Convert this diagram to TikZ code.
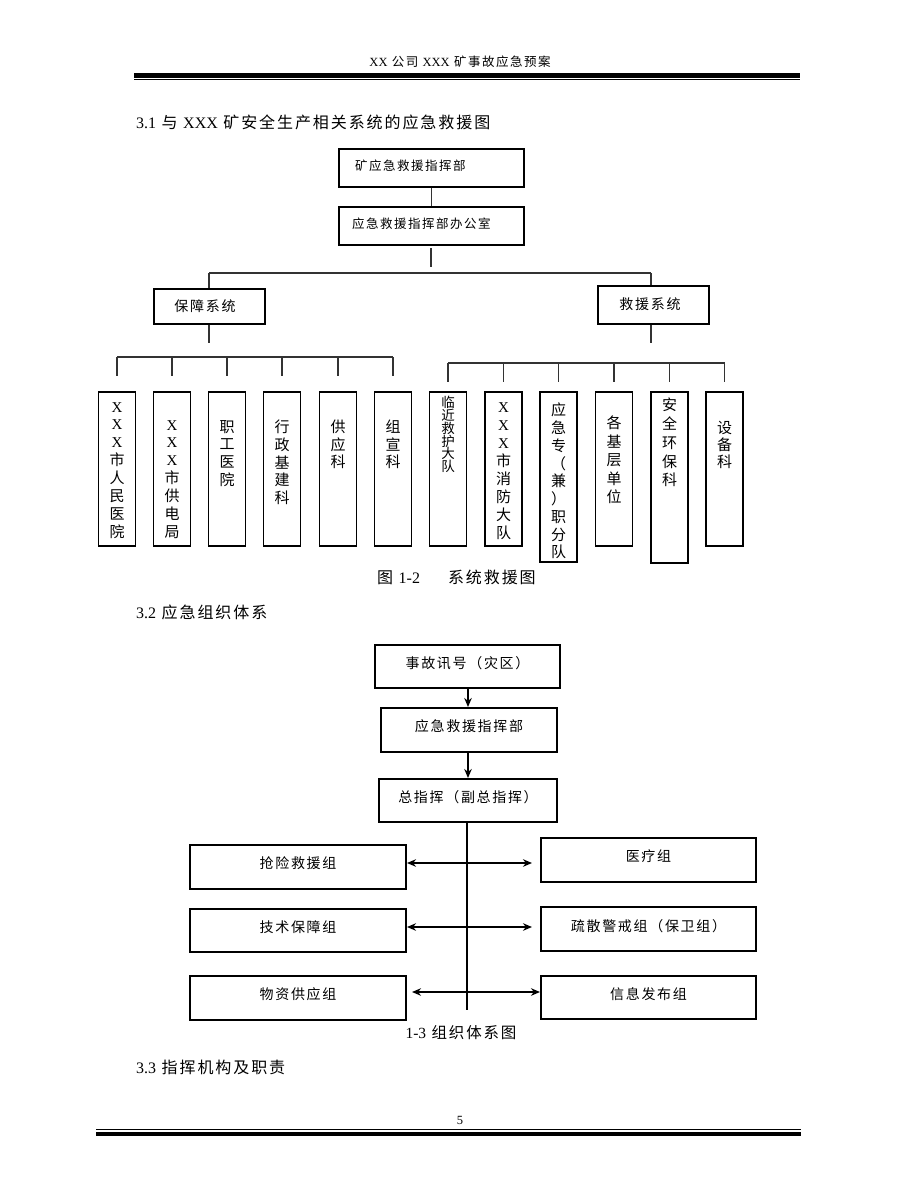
\documentclass[tikz,border=0pt]{standalone}
\usepackage{fontspec}
\setmainfont{Liberation Serif}
\newfontfamily\cjk[LetterSpace=12]{Noto Sans CJK SC}
\newfontfamily\lat{Liberation Serif}
\newcommand\myfs[2]{\fontsize{#1}{#2}\selectfont}
\usetikzlibrary{arrows.meta}
\begin{document}
\begin{tikzpicture}[x=1pt,y=-1pt,
  bx/.style={draw,line width=1.1pt,inner sep=0pt},
  vbx/.style={draw,line width=1.1pt,inner sep=0pt,minimum width=37pt},
  bxb/.style={draw,line width=2pt,inner sep=0pt,text depth=8pt,font={\myfs{14}{16}\cjk}},
  ln/.style={draw=black!80,line width=1.3pt},
  lnb/.style={line width=1.8pt},
  tx/.style={inner sep=0pt,font={\myfs{12.5}{15}\cjk}},
  vt/.style={inner sep=0pt,anchor=north,align=center},
  hd/.style={inner sep=0pt,anchor=west,font={\myfs{16}{18}\cjk}},
  arr/.style={-{Stealth[length=9pt,width=7.5pt]}},
  darr/.style={{Stealth[length=9pt,width=7.5pt]}-{Stealth[length=9pt,width=7.5pt]}}
]
\useasboundingbox (0,0) rectangle (920,1191);
\fill[white] (0,0) rectangle (920,1191);

% header and footer
\node[inner sep=0pt,font={\myfs{12.5}{15}\cjk}] (hdr) at (460,62) {{\lat XX} 公司 {\lat XXX} 矿事故应急预案};
\fill (134,73) rectangle (800,77.5);
\draw[line width=0.8pt] (134,79.6) -- (800,79.6);
\node[inner sep=0pt,font={\myfs{12.5}{15}\lat}] (pg) at (460,1120) {5};
\draw[line width=0.8pt] (96,1129) -- (801,1129);
\fill (96,1131.5) rectangle (801,1136);

% headings
\node[hd] (h1) at (136,122) {{\lat 3.1} 与 {\lat XXX} 矿安全生产相关系统的应急救援图};
\node[hd] (h2) at (136,612) {{\lat 3.2} 应急组织体系};
\node[hd] (h3) at (136,1067) {{\lat 3.3} 指挥机构及职责};

% ---------- diagram 1 ----------
\node[bx,minimum width=185pt,minimum height=38pt] (c1) at (431.5,168) {};
\node[tx,anchor=west] (c1t) at (355,166) {矿应急救援指挥部};
\node[bx,minimum width=185pt,minimum height=38pt] (c2) at (431.5,226) {};
\node[tx,anchor=west] (c2t) at (352,224) {应急救援指挥部办公室};
\draw[ln] (c1) -- (c2);
\coordinate (k1) at (431,248);
\coordinate (k2) at (431,267);
\draw[ln] (k1) -- (k2);
\coordinate (hl) at (209,273);
\coordinate (hr) at (651,273);
\draw[ln] (hl) -- (hr);
\node[bx,minimum width=111pt,minimum height=35pt] (bz) at (209.5,306.5) {};
\node[tx,font={\myfs{14}{16}\cjk}] (bzt) at (205,306) {保障系统};
\node[bx,minimum width=111pt,minimum height=38pt] (jy) at (653.5,305) {};
\node[tx,font={\myfs{14}{16}\cjk}] (jyt) at (650,304) {救援系统};
\draw[ln] (hl) -- (hl |- bz.north);
\draw[ln] (hr) -- (hr |- jy.north);
\coordinate (bl) at (209,343);
\coordinate (br) at (651,343);
\draw[ln] (bz.south -| bl) -- (bl);
\draw[ln] (jy.south -| br) -- (br);

% left group
\node[vbx,minimum height=154pt] (p1) at (117,469) {};
\node[vbx,minimum height=154pt] (p2) at (172,469) {};
\node[vbx,minimum height=154pt] (p3) at (227,469) {};
\node[vbx,minimum height=154pt] (p4) at (282,469) {};
\node[vbx,minimum height=154pt] (p5) at (338,469) {};
\node[vbx,minimum height=154pt] (p6) at (393,469) {};
\draw[ln] (p1.north |- 0,357) -- (p6.north |- 0,357);
\foreach \n in {p1,p2,p3,p4,p5,p6}
  \draw[ln] (\n.north |- 0,357) -- (\n.north |- 0,376);

% right group
\node[vbx,minimum height=154pt] (q1) at (448,469) {};
\node[vbx,minimum height=154pt] (q2) at (503.5,469) {};
\node[vbx,minimum height=170pt] (q3) at (558.5,477) {};
\node[vbx,minimum height=154pt] (q4) at (614,469) {};
\node[vbx,minimum height=171pt] (q5) at (669.5,477.5) {};
\node[vbx,minimum height=154pt] (q6) at (724.5,469) {};
\draw[ln] (q1.north |- 0,363) -- (q6.north |- 0,363);
\foreach \n in {q1,q2,q3,q4,q5,q6}
  \draw[ln] (\n.north |- 0,363) -- (\n.north |- 0,382);

% vertical texts
\node[vt,font={\myfs{15}{17.9}\cjk}] (p1t) at (117,402) {{\lat X}\\{\lat X}\\{\lat X}\\市\\人\\民\\医\\院};
\node[vt,font={\myfs{15}{17.9}\cjk}] (p2t) at (172,420) {{\lat X}\\{\lat X}\\{\lat X}\\市\\供\\电\\局};
\node[vt,font={\myfs{15}{17.7}\cjk}] (p3t) at (227,420) {职\\工\\医\\院};
\node[vt,font={\myfs{15}{17.7}\cjk}] (p4t) at (282,420) {行\\政\\基\\建\\科};
\node[vt,font={\myfs{15}{17.5}\cjk}] (p5t) at (338,420) {供\\应\\科};
\node[vt,font={\myfs{15}{17.5}\cjk}] (p6t) at (393,420) {组\\宣\\科};
\node[vt,font={\myfs{13.5}{12.8}\cjk}] (q1t) at (448,396) {临\\近\\救\\护\\大\\队};
\node[vt,font={\myfs{15}{18}\cjk}] (q2t) at (503.5,402) {{\lat X}\\{\lat X}\\{\lat X}\\市\\消\\防\\大\\队};
\node[vt,font={\myfs{15}{17.75}\cjk}] (q3t) at (558.5,403) {应\\急\\专\\（\\兼\\）\\职\\分\\队};
\node[vt,font={\myfs{15}{18.5}\cjk}] (q4t) at (614,416) {各\\基\\层\\单\\位};
\node[vt,font={\myfs{15}{18.75}\cjk}] (q5t) at (669.5,398) {安\\全\\环\\保\\科};
\node[vt,font={\myfs{15}{17}\cjk}] (q6t) at (724.5,421) {设\\备\\科};

\node[hd] (cap1) at (377,577) {图 {\lat 1-2}\hspace{28pt}系统救援图};

% ---------- diagram 2 ----------
\node[bxb,minimum width=185pt,minimum height=43pt] (s1) at (467.5,666.5) {事故讯号（灾区）};
\node[bxb,minimum width=176pt,minimum height=44pt] (s2) at (469,730) {应急救援指挥部};
\node[bxb,minimum width=178pt,minimum height=43pt] (s3) at (468,800.5) {总指挥（副总指挥）};
\draw[lnb,arr] (s1.south -| 468,0) -- (s2.north -| 468,0);
\draw[lnb,arr] (s2.south -| 468,0) -- (s3.north -| 468,0);
\coordinate (sp) at (467,1010);
\draw[lnb] (s3.south -| sp) -- (sp);

\node[bxb,minimum width=216pt,minimum height=44pt] (l1) at (298,867) {抢险救援组};
\node[bxb,minimum width=216pt,minimum height=43pt] (l2) at (298,930.5) {技术保障组};
\node[bxb,minimum width=216pt,minimum height=44pt] (l3) at (298,998) {物资供应组};
\node[bxb,minimum width=215pt,minimum height=44pt] (r1) at (648.5,860) {医疗组};
\node[bxb,minimum width=215pt,minimum height=44pt] (r2) at (648.5,929) {疏散警戒组（保卫组）};
\node[bxb,minimum width=215pt,minimum height=43pt] (r3) at (648.5,997.5) {信息发布组};

\coordinate (e1) at (532,863);
\coordinate (e2) at (532,927);
\coordinate (e3) at (412,992);
\draw[lnb,darr] (l1.east |- e1) -- (e1);
\draw[lnb,darr] (l2.east |- e2) -- (e2);
\draw[lnb,darr] (e3) -- (r3.west |- e3);

\node[inner sep=0pt,font={\myfs{15.5}{18}\cjk}] (cap2) at (461,1033) {{\lat 1-3} 组织体系图};
\end{tikzpicture}
\end{document}
